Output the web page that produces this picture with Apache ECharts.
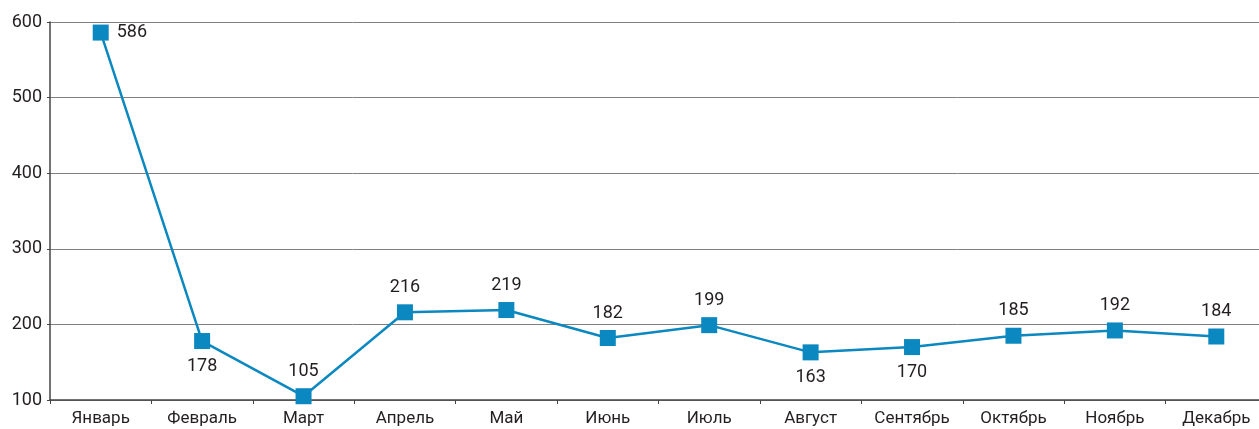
<!DOCTYPE html>
<html><head><meta charset="utf-8">
<script src="https://cdn.jsdelivr.net/npm/echarts@6/dist/echarts.min.js"></script>
<style>html,body{margin:0;padding:0;background:#fff}#c{width:1259px;height:429px}</style>
</head><body><div id="c"></div>
<script>
const categories = ['Январь','Февраль','Март','Апрель','Май','Июнь','Июль','Август','Сентябрь','Октябрь','Ноябрь','Декабрь'];
const values = [586,178,105,216,219,182,199,163,170,185,192,184];
const labelPos = ['right','bottom','top','top','top','top','top','bottom','bottom','top','top','top'];
const yTicks = {min:100, max:600, interval:100};

const chart = echarts.init(document.getElementById('c'));
const FONT = 'Roboto';
chart.setOption({
  animation:false,
  grid:{left:50, top:22, width:1217, bottom:29, containLabel:false, outerBoundsMode:'none'},
  xAxis:{type:'category', data:categories, boundaryGap:true,
    axisLine:{lineStyle:{color:'#444', width:1.5}},
    axisTick:{show:true, length:4, lineStyle:{color:'#444'}},
    axisLabel:{color:'#231f20', fontFamily:FONT, fontSize:17, margin:10}},
  yAxis:{type:'value', min:yTicks.min, max:yTicks.max, interval:yTicks.interval,
    axisLine:{show:true, lineStyle:{color:'#444', width:1.5}},
    axisTick:{show:true, length:3, lineStyle:{color:'#444'}},
    axisLabel:{color:'#231f20', fontFamily:FONT, fontSize:18, margin:8},
    splitLine:{lineStyle:{color:'#808080', width:1}}},
  series:[{type:'line', data:values.map((v,i)=>({value:v, label:{position:labelPos[i]}})),
    symbol:'rect', symbolSize:16,
    lineStyle:{color:'#0a88bf', width:2.5},
    itemStyle:{color:'#0a88bf'},
    label:{show:true, color:'#231f20', fontFamily:FONT, fontSize:18, distance:8}}]
});
</script></body></html>
